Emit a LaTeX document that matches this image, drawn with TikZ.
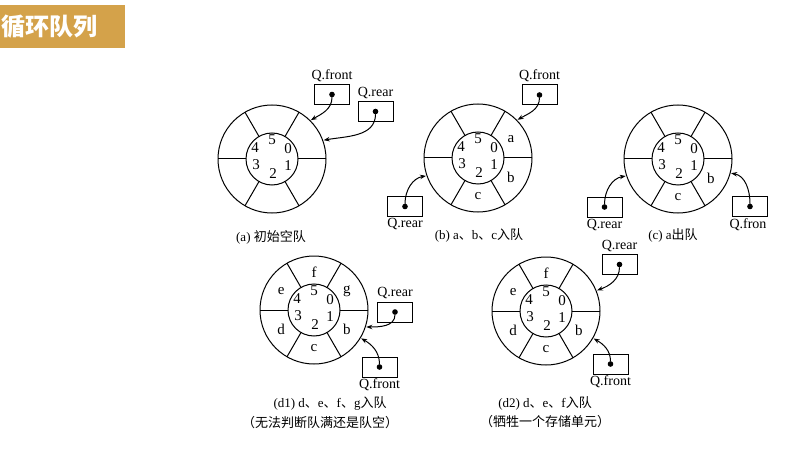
\documentclass[tikz,border=0pt]{standalone}
\usepackage{fontspec}
\setmainfont{Liberation Serif}
\newfontfamily\cjk{Noto Sans CJK SC}
\usepackage{xcolor}
\definecolor{queue-gold}{HTML}{D4A24A}
\usetikzlibrary{arrows.meta,positioning}

\begin{document}
\begin{tikzpicture}[x=1pt, y=1pt, line width=1pt,
    ptrbox/.style={draw, minimum width=35pt, minimum height=20pt, inner sep=0pt},
    ptrdot/.style={circle, draw, fill, inner sep=0pt, minimum size=4.5pt},
    ptrname/.style={font=\fontsize{14}{16}\selectfont, inner sep=1pt},
    ptrarrow/.style={-{Stealth[length=6pt,width=4.5pt]}},
    slotnum/.style={font=\fontsize{15}{17}\selectfont, inner sep=0pt},
    slotval/.style={font=\fontsize{15}{17}\selectfont, inner sep=0pt},
    caption/.style={font=\fontsize{13}{15}\selectfont, inner sep=0pt}]

    % Background
    \useasboundingbox (0,0) rectangle (794,-465);
    \fill[white] (0,0) rectangle (794,-465);

    % Banner
    \fill[queue-gold] (0,-5) rectangle (125,-48);
    \node[anchor=west, text=white, inner sep=0pt, font=\cjk\bfseries\fontsize{24}{26}\selectfont] (title) at (1,-26.5) {循环队列};

    % Rings with slot numbers
    \foreach \ring/\cx/\cy in {a/272/159, b/478/158, c/678/159, da/314/310, db/546/311} {
        \coordinate (\ring) at (\cx,-\cy);
        \draw (\ring) circle (54);
        \draw (\ring) circle (26);
        \foreach \ang in {0,60,...,300}
            \draw ([shift={(\ang:26)}]\ring) -- ([shift={(\ang:54)}]\ring);
        \foreach \num/\dx/\dy in {0/16/10, 1/16/-7, 2/1/-15, 3/-16/-6, 4/-17/11, 5/0/19}
            \node[slotnum] (\ring-\num) at ([shift={(\dx,\dy)}]\ring) {\num};
    }

    % Slot contents
    \foreach \ring/\ang/\val in {b/30/a, b/-30/b, b/-90/c, c/-30/b, c/-90/c,
            da/30/g, da/-30/b, da/-90/c, da/-150/d, da/150/e, da/90/f,
            db/-30/b, db/-90/c, db/-150/d, db/150/e, db/90/f}
        \node[slotval] (\ring-\val) at ([shift={(\ang:38)}]\ring) {\val};

    % (a) pointers
    \node[ptrbox] (afront) at (332,-94.5) {};
    \node[ptrdot] (afront-dot) at (afront) {};
    \node[ptrname, above=1pt of afront] (afront-name) {Q.front};
    \coordinate (afront-in) at ([shift={(45:55)}]a);
    \draw[ptrarrow] (afront-dot) to[out=-90, in=30] (afront-in);

    \node[ptrbox] (arear) at (375.5,-111.5) {};
    \node[ptrdot] (arear-dot) at (arear) {};
    \node[ptrname, above=1pt of arear] (arear-name) {Q.rear};
    \coordinate (arear-in) at ([shift={(20:55)}]a);
    \draw[ptrarrow] (arear-dot) to[out=-90, in=10] (arear-in);

    % (b) pointers
    \node[ptrbox] (bfront) at (539.5,-95) {};
    \node[ptrdot] (bfront-dot) at (bfront) {};
    \node[ptrname, above=1pt of bfront] (bfront-name) {Q.front};
    \coordinate (bfront-in) at ([shift={(44:55)}]b);
    \draw[ptrarrow] (bfront-dot) to[out=-90, in=30] (bfront-in);

    \node[ptrbox] (brear) at (405,-206.5) {};
    \node[ptrdot] (brear-dot) at (brear) {};
    \node[ptrname, below=0pt of brear] (brear-name) {Q.rear};
    \coordinate (brear-in) at ([shift={(199:55)}]b);
    \draw[ptrarrow] (brear-dot) to[out=90, in=190] (brear-in);

    % (c) pointers
    \node[ptrbox] (crear) at (604.5,-207) {};
    \node[ptrdot] (crear-dot) at (crear) {};
    \node[ptrname, below=0pt of crear] (crear-name) {Q.rear};
    \coordinate (crear-in) at ([shift={(198:55)}]c);
    \draw[ptrarrow] (crear-dot) to[out=90, in=190] (crear-in);

    \node[ptrbox] (cfront) at (750,-206.5) {};
    \node[ptrdot] (cfront-dot) at (cfront) {};
    \node[ptrname, anchor=north west] (cfront-name) at ([xshift=-4pt]cfront.south west) {Q.fron};
    \coordinate (cfront-in) at ([shift={(-15:55)}]c);
    \draw[ptrarrow] (cfront-dot) to[out=90, in=-10] (cfront-in);

    % (d1) pointers
    \node[ptrbox] (darear) at (395,-312) {};
    \node[ptrdot] (darear-dot) at (darear) {};
    \node[ptrname, above=1pt of darear] (darear-name) {Q.rear};
    \coordinate (darear-in) at ([shift={(-18:55)}]da);
    \draw[ptrarrow] (darear-dot) to[out=-90, in=0] (darear-in);

    \node[ptrbox] (dafront) at (379.5,-367) {};
    \node[ptrdot] (dafront-dot) at (dafront) {};
    \node[ptrname, below=0pt of dafront] (dafront-name) {Q.front};
    \coordinate (dafront-in) at ([shift={(-31:55)}]da);
    \draw[ptrarrow] (dafront-dot) to[out=90, in=-30] (dafront-in);

    % (d2) pointers
    \node[ptrbox] (dbrear) at (619.5,-264.5) {};
    \node[ptrdot] (dbrear-dot) at (dbrear) {};
    \node[ptrname, above=1pt of dbrear] (dbrear-name) {Q.rear};
    \coordinate (dbrear-in) at ([shift={(22:55)}]db);
    \draw[ptrarrow] (dbrear-dot) to[out=-90, in=20] (dbrear-in);

    \node[ptrbox] (dbfront) at (610.5,-364) {};
    \node[ptrdot] (dbfront-dot) at (dbfront) {};
    \node[ptrname, below=0pt of dbfront] (dbfront-name) {Q.front};
    \coordinate (dbfront-in) at ([shift={(-30:55)}]db);
    \draw[ptrarrow] (dbfront-dot) to[out=90, in=-30] (dbfront-in);

    % Captions
    \node[caption] (cap-a) at (271,-237) {(a) {\cjk 初始空队}};
    \node[caption] (cap-b) at (479,-235) {(b) a{\cjk 、}b{\cjk 、}c{\cjk 入队}};
    \node[caption] (cap-c) at (673,-235) {(c) a{\cjk 出队}};
    \node[caption] (cap-da) at (330,-403) {(d1) d{\cjk 、}e{\cjk 、}f{\cjk 、}g{\cjk 入队}};
    \node[caption] (cap-da2) at (320,-423) {\cjk （无法判断队满还是队空）};
    \node[caption] (cap-db) at (545,-403) {(d2) d{\cjk 、}e{\cjk 、}f{\cjk 入队}};
    \node[caption] (cap-db2) at (545,-422) {\cjk （牺牲一个存储单元）};

\end{tikzpicture}
\end{document}
